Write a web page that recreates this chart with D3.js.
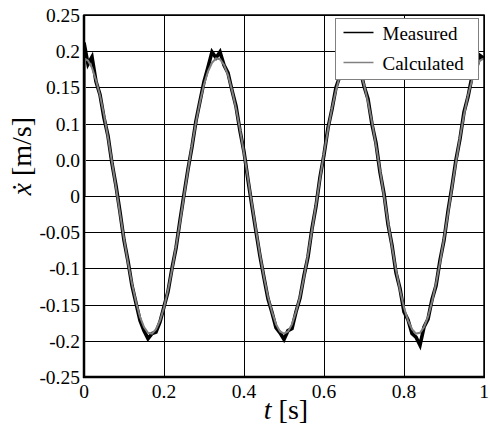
<!DOCTYPE html>
<html>
<head>
<meta charset="utf-8">
<script src="https://cdn.jsdelivr.net/npm/d3@7"></script>
<style>
body { margin: 0; background: #fff; }
</style>
</head>
<body>
<svg width="490" height="425" font-family="'Liberation Serif', 'Times New Roman', Times, serif"></svg>
<script>
var xTicks = [0, 0.2, 0.4, 0.6, 0.8, 1];
var xTickLabels = ['0', '0.2', '0.4', '0.6', '0.8', '1'];
var yTicks = [0.25, 0.2, 0.15, 0.1, 0.05, 0, -0.05, -0.1, -0.15, -0.2, -0.25];
var yTickLabels = ['0.25', '0.2', '0.15', '0.1', '0.0', '0', '-0.05', '-0.1', '-0.15', '-0.2', '-0.25'];

// measured, every 0.01 s
var measured = [0.212, 0.182, 0.192, 0.158, 0.140, 0.108, 0.083, 0.045, 0.014, -0.022,
	-0.061, -0.090, -0.124, -0.148, -0.172, -0.186, -0.197, -0.190, -0.188, -0.174,
	-0.153, -0.132, -0.100, -0.072, -0.034, 0.002, 0.037, 0.068, 0.104, 0.131,
	0.158, 0.178, 0.199, 0.191, 0.199, 0.181, 0.170, 0.146, 0.124, 0.090,
	0.061, 0.022, -0.014, -0.049, -0.083, -0.113, -0.142, -0.161, -0.182, -0.189,
	-0.198, -0.186, -0.183, -0.160, -0.141, -0.110, -0.084, -0.045, -0.014, 0.026,
	0.057, 0.094, 0.120, 0.150, 0.166, 0.186, 0.192, 0.196, 0.185, 0.176,
	0.152, 0.134, 0.099, 0.073, 0.033, 0.003, -0.039, -0.068, -0.106, -0.128,
	-0.160, -0.171, -0.190, -0.195, -0.206, -0.181, -0.170, -0.143, -0.124, -0.089,
	-0.061, -0.021, 0.013, 0.050, 0.079, 0.116, 0.137, 0.165, 0.174, 0.194, 0.190];

// calculated, every 0.01 s
var calculated = [0.190, 0.187, 0.177, 0.160, 0.139, 0.112, 0.081, 0.047, 0.012, -0.024,
	-0.059, -0.092, -0.121, -0.146, -0.167, -0.181, -0.189, -0.190, -0.184, -0.172,
	-0.154, -0.130, -0.102, -0.070, -0.036, 0.000, 0.036, 0.070, 0.102, 0.130,
	0.154, 0.172, 0.184, 0.190, 0.189, 0.181, 0.167, 0.146, 0.121, 0.092,
	0.059, 0.024, -0.012, -0.047, -0.081, -0.112, -0.139, -0.160, -0.177, -0.187,
	-0.190, -0.187, -0.177, -0.160, -0.139, -0.112, -0.081, -0.047, -0.012, 0.024,
	0.059, 0.092, 0.121, 0.146, 0.167, 0.181, 0.189, 0.190, 0.184, 0.172,
	0.154, 0.130, 0.102, 0.070, 0.036, 0.000, -0.036, -0.070, -0.102, -0.130,
	-0.154, -0.172, -0.184, -0.190, -0.189, -0.181, -0.167, -0.146, -0.121, -0.092,
	-0.059, -0.024, 0.012, 0.047, 0.081, 0.112, 0.139, 0.160, 0.177, 0.187, 0.190];

var pLeft = 84, pRight = 484, pTop = 15, pBottom = 377;
var serif = "'Liberation Serif', 'Times New Roman', Times, serif";

var svg = d3.select('svg');

var x = d3.scaleLinear().domain([0, 1]).range([pLeft, pRight]);
var y = d3.scaleLinear().domain([-0.25, 0.25]).range([pBottom, pTop]);

svg.append('clipPath').attr('id', 'clip')
	.append('rect')
	.attr('x', pLeft).attr('y', pTop)
	.attr('width', pRight - pLeft).attr('height', pBottom - pTop);

// grid
svg.append('g').selectAll('line')
	.data(yTicks)
	.enter().append('line')
	.attr('x1', pLeft).attr('x2', pRight)
	.attr('y1', function(d) { return Math.round(y(d)) + 0.5; })
	.attr('y2', function(d) { return Math.round(y(d)) + 0.5; })
	.style('stroke', '#000').style('stroke-width', 1);

svg.append('g').selectAll('line')
	.data(xTicks)
	.enter().append('line')
	.attr('y1', pTop).attr('y2', pBottom)
	.attr('x1', function(d) { return Math.round(x(d)) + 0.5; })
	.attr('x2', function(d) { return Math.round(x(d)) + 0.5; })
	.style('stroke', '#000').style('stroke-width', 1);

var line = d3.line()
	.x(function(d, i) { return x(i / 100); })
	.y(function(d) { return y(d); });

var curves = svg.append('g').attr('clip-path', 'url(#clip)');

curves.append('path')
	.attr('d', line(measured))
	.style('fill', 'none')
	.style('stroke', '#000')
	.style('stroke-width', 3.6)
	.style('stroke-linejoin', 'miter');

// calculated trace starts with a vertical jump at t = 0
curves.append('line')
	.attr('x1', x(0) + 1).attr('x2', x(0) + 1)
	.attr('y1', y(0)).attr('y2', y(calculated[0]))
	.style('stroke', '#808080').style('stroke-width', 2);

curves.append('path')
	.attr('d', line(calculated))
	.style('fill', 'none')
	.style('stroke', '#808080')
	.style('stroke-width', 2);

// frame
svg.append('rect')
	.attr('x', pLeft).attr('y', pTop)
	.attr('width', pRight - pLeft).attr('height', pBottom - pTop)
	.style('fill', 'none').style('stroke', '#000').style('stroke-width', 1.5);

svg.append('line')
	.attr('x1', pLeft).attr('x2', pLeft).attr('y1', pTop).attr('y2', pBottom + 1)
	.style('stroke', '#000').style('stroke-width', 2.5);
svg.append('line')
	.attr('x1', pLeft - 1).attr('x2', pRight + 1).attr('y1', pBottom).attr('y2', pBottom)
	.style('stroke', '#000').style('stroke-width', 2.5);

// tick labels
svg.append('g').selectAll('text')
	.data(yTicks)
	.enter().append('text')
	.attr('x', pLeft - 4)
	.attr('y', function(d) { return y(d); })
	.attr('dy', '0.36em')
	.attr('text-anchor', 'end')
	.style('font-family', serif)
	.style('font-size', '19.5px')
	.text(function(d, i) { return yTickLabels[i]; });

svg.append('g').selectAll('text')
	.data(xTicks)
	.enter().append('text')
	.attr('x', function(d) { return x(d); })
	.attr('y', 398)
	.attr('text-anchor', 'middle')
	.style('font-family', serif)
	.style('font-size', '19.5px')
	.text(function(d, i) { return xTickLabels[i]; });

// axis titles
var xt = svg.append('text')
	.attr('x', x(0.5) + 2)
	.attr('y', 419)
	.attr('text-anchor', 'middle')
	.style('font-family', serif)
	.style('font-size', '28px');
xt.append('tspan').style('font-style', 'italic').text('t');
xt.append('tspan').text(' [s]');

var yt = svg.append('text')
	.attr('transform', 'translate(31,' + y(0.055) + ') rotate(-90)')
	.attr('text-anchor', 'middle')
	.style('font-family', serif)
	.style('font-size', '28px');
yt.append('tspan').style('font-style', 'italic').text('x\u0307');
yt.append('tspan').text(' [m/s]');

// legend
var legend = svg.append('g').attr('transform', 'translate(335.5,18.5)');
legend.append('rect')
	.attr('width', 143).attr('height', 61)
	.style('fill', '#fff').style('stroke', '#808080').style('stroke-width', 1);

var legendItems = [{ name: 'Measured', color: '#000' }, { name: 'Calculated', color: '#808080' }];
legendItems.forEach(function(d, i) {
	legend.append('line')
		.attr('x1', 8).attr('x2', 38)
		.attr('y1', 14 + i * 30).attr('y2', 14 + i * 30)
		.style('stroke', d.color).style('stroke-width', 1.5);
	legend.append('text')
		.attr('x', 47).attr('y', 21 + i * 30)
		.style('font-family', serif)
		.style('font-size', '19px')
		.text(d.name);
});
</script>
</body>
</html>
